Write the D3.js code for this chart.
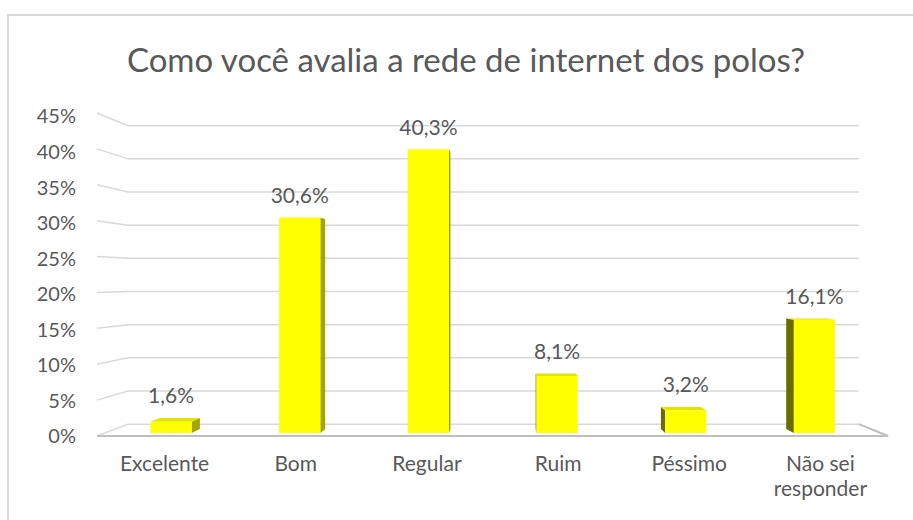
<!DOCTYPE html>
<html>
<head>
<meta charset="utf-8">
<script src="https://cdn.jsdelivr.net/npm/d3@7"></script>
<style>
  html, body { margin: 0; padding: 0; background: #fff; }
  svg { display: block; font-family: Lato, "Open Sans", sans-serif; }
</style>
</head>
<body>
<svg id="chart" width="913" height="520"></svg>
<script>
const categories = ["Excelente", "Bom", "Regular", "Ruim", "Péssimo", "Não sei responder"];
const values = [1.6, 30.6, 40.3, 8.1, 3.2, 16.1];
const yTicks = [0, 5, 10, 15, 20, 25, 30, 35, 40, 45];
const title = "Como você avalia a rede de internet dos polos?";

const W = 913, H = 520;
const TEXT = "#595959";
const svg = d3.select("#chart");

// chart area border (only top and left edges are inside the picture)
svg.append("rect")
	.attr("x", 8).attr("y", 15).attr("width", W + 20).attr("height", H + 20)
	.attr("fill", "#fff").attr("stroke", "#d9d9d9").attr("stroke-width", 2);

svg.append("text")
	.attr("x", 466).attr("y", 72)
	.attr("text-anchor", "middle").attr("font-size", "33px").attr("fill", TEXT)
	.text(title);

// --- 3D frame: front plane coords + perspective toward a vanishing point ---
const X0 = 97, X1 = 888;
const VP = { x: 505, y: 280 };
const K = 0.924;                 // scale of the back wall
const proj = (X, Y, z) => {
	const s = 1 - (1 - K) * z;
	return [VP.x + (X - VP.x) * s, VP.y + (Y - VP.y) * s];
};
const poly = pts => "M" + pts.map(p => p.join(",")).join("L") + "Z";
const line = pts => "M" + pts.map(p => p.join(",")).join("L");

const x = d3.scaleBand().domain(categories).range([X0 + 2, X1 - 2]);
const y = d3.scaleLinear().domain([0, 45]).range([436, 113]);
const yLab = d3.scaleLinear().domain([0, 45]).range([436.5, 116.5]);

// gridlines: left wall + back wall
const grid = svg.append("g");
yTicks.forEach(t => {
	grid.append("path")
		.attr("d", line([proj(X0, y(t), 0), proj(X0, y(t), 1), proj(X1, y(t), 1)]))
		.attr("fill", "none").attr("stroke", "#d9d9d9").attr("stroke-width", 1.5);
});
// floor front + right edges
svg.append("path")
	.attr("d", line([proj(X0, y(0), 0), proj(X1, y(0), 0), proj(X1, y(0), 1)]))
	.attr("fill", "none").attr("stroke", "#bfbfbf").attr("stroke-width", 2);

// y axis labels
svg.append("g")
	.attr("transform", "translate(76,0)")
	.call(d3.axisLeft(yLab).tickValues(yTicks).tickSize(0).tickPadding(0).tickFormat(d => d + "%"))
	.call(g => g.select(".domain").remove())
	.attr("font-family", null).attr("font-size", null)
	.call(g => g.selectAll("text").attr("font-size", "20px").attr("fill", TEXT));

// bars
const ZF = 0.25, ZB = 0.59, HALF = 21;
const bars = svg.append("g");
categories.forEach((c, i) => {
	const cx = x(c) + x.bandwidth() / 2;
	const l = cx - HALF, r = cx + HALF, b = y(0), t = y(values[i]);
	const fTL = proj(l, t, ZF), fTR = proj(r, t, ZF), fBL = proj(l, b, ZF), fBR = proj(r, b, ZF);
	const bTL = proj(l, t, ZB), bTR = proj(r, t, ZB), bBL = proj(l, b, ZB), bBR = proj(r, b, ZB);
	if (r < VP.x) {
		bars.append("path").attr("d", poly([fTR, bTR, bBR, fBR])).attr("fill", "#a6a600");
	} else if (l > VP.x) {
		bars.append("path").attr("d", poly([fTL, bTL, bBL, fBL])).attr("fill", "#6b6b00");
	}
	if (t > VP.y) {
		bars.append("path").attr("d", poly([fTL, fTR, bTR, bTL])).attr("fill", "#e3e300");
	}
	bars.append("path").attr("d", poly([fTL, fTR, fBR, fBL])).attr("fill", "#ffff00");

	const [lx] = proj(cx, t, ZF);
	const top = Math.min(fTL[1], bTL[1]);
	svg.append("text")
		.attr("x", lx).attr("y", top - 22).attr("dy", "0.35em")
		.attr("text-anchor", "middle").attr("font-size", "21px").attr("fill", TEXT)
		.text(values[i].toFixed(1).replace(".", ",") + "%");
});

// category axis (on the front plane), long labels wrapped
const xAxis = svg.append("g")
	.call(d3.axisBottom(x).tickSize(0))
	.call(g => g.select(".domain").remove())
	.attr("font-family", null).attr("font-size", null);
xAxis.selectAll("text")
	.attr("font-size", "21px").attr("fill", TEXT).attr("dy", null)
	.each(function (d) {
		const el = d3.select(this), words = d.split(" ");
		el.text(null);
		let lineWords = [], n = 0;
		let ts = el.append("tspan").attr("x", 0).attr("y", 471);
		words.forEach(w => {
			lineWords.push(w);
			ts.text(lineWords.join(" "));
			if (ts.node().getComputedTextLength() > x.step() * 0.85 && lineWords.length > 1) {
				lineWords.pop();
				ts.text(lineWords.join(" "));
				lineWords = [w];
				n++;
				ts = el.append("tspan").attr("x", 0).attr("y", 471 + n * 25).text(w);
			}
		});
	});
</script>
</body>
</html>
